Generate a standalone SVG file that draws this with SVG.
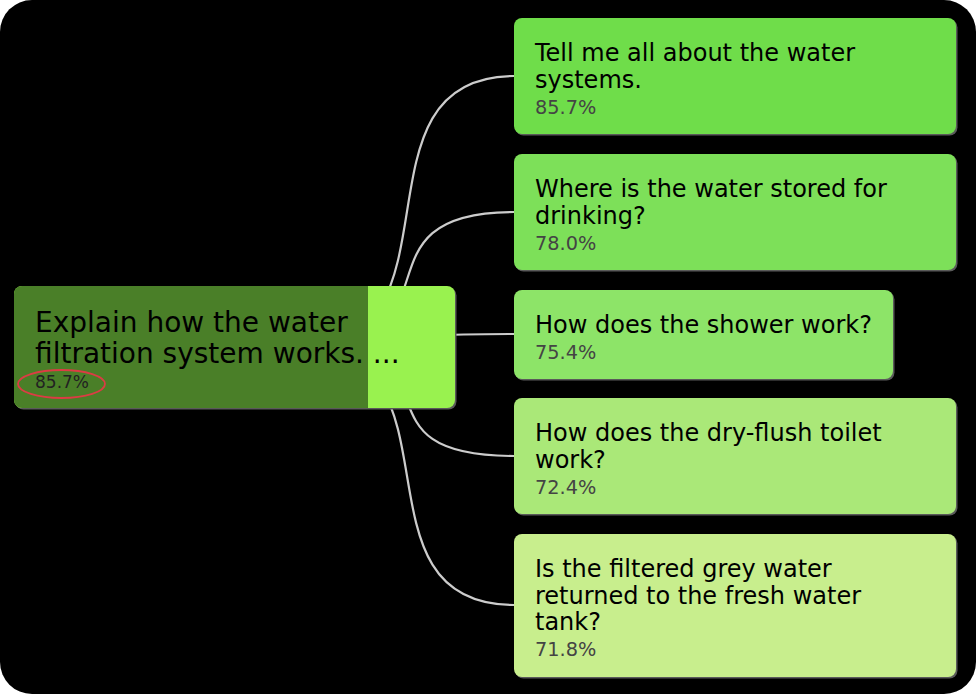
<svg xmlns="http://www.w3.org/2000/svg" width="976" height="694" viewBox="0 0 976 694">
<style>
.t{font-family:"DejaVu Sans",Verdana,sans-serif;font-size:24px;fill:#000}
.p{font-family:"DejaVu Sans",Verdana,sans-serif;font-size:19.3px;fill:#444}
.lt{font-family:"DejaVu Sans",Verdana,sans-serif;font-size:28px;fill:#000}
.lp{font-family:"DejaVu Sans",Verdana,sans-serif;font-size:17px;fill:#222}
.sh{fill:#5a5a5a}
.link{fill:none;stroke:#cccccc;stroke-width:2.2}
</style>
<rect x="0" y="0" width="976" height="694" fill="#ffffff"/>
<rect x="0" y="0" width="976" height="694" rx="32" ry="32" fill="#000000"/>
<g id="connectors">
<path class="link" d="M300,347 C471,347 343,76 514,76"/>
<path class="link" d="M300,347 C471,347 343,212 514,212"/>
<path class="link" d="M300,347 C471,347 343,334 514,334"/>
<path class="link" d="M300,347 C471,347 343,456 514,456"/>
<path class="link" d="M300,347 C471,347 343,605 514,605"/>
</g>
<g id="root">
<rect class="sh" x="15.5" y="287.5" width="441" height="122" rx="8"/>
<rect x="14" y="286" width="441" height="122" rx="8" fill="#99f24f"/>
<path d="M22,286 H368 V408 H22 A8,8 0 0 1 14,400 V294 A8,8 0 0 1 22,286 Z" fill="#4a7f28"/>
<text class="lt" x="35" y="332">Explain how the water</text>
<text class="lt" x="35" y="363">filtration system works. ...</text>
<text class="lp" x="35" y="388">85.7%</text>
<ellipse cx="61.5" cy="384" rx="43.5" ry="14" fill="none" stroke="#dc3c44" stroke-width="1.8"/>
</g>
<g id="n1">
<rect class="sh" x="515.5" y="19.5" width="442" height="116" rx="8"/>
<rect x="514" y="18" width="442" height="116" rx="8" fill="#6fdd4a"/>
<text class="t" x="535" y="61">Tell me all about the water</text>
<text class="t" x="535" y="88">systems.</text>
<text class="p" x="535" y="114">85.7%</text>
</g>
<g id="n2">
<rect class="sh" x="515.5" y="155.5" width="442" height="116" rx="8"/>
<rect x="514" y="154" width="442" height="116" rx="8" fill="#7de059"/>
<text class="t" x="535" y="197">Where is the water stored for</text>
<text class="t" x="535" y="224">drinking?</text>
<text class="p" x="535" y="250">78.0%</text>
</g>
<g id="n3">
<rect class="sh" x="515.5" y="291.5" width="379" height="89" rx="8"/>
<rect x="514" y="290" width="379" height="89" rx="8" fill="#8de468"/>
<text class="t" x="535" y="333">How does the shower work?</text>
<text class="p" x="535" y="359">75.4%</text>
</g>
<g id="n4">
<rect class="sh" x="515.5" y="399.5" width="442" height="116" rx="8"/>
<rect x="514" y="398" width="442" height="116" rx="8" fill="#aae878"/>
<text class="t" x="535" y="441">How does the dry-flush toilet</text>
<text class="t" x="535" y="468">work?</text>
<text class="p" x="535" y="494">72.4%</text>
</g>
<g id="n5">
<rect class="sh" x="515.5" y="535.5" width="442" height="143" rx="8"/>
<rect x="514" y="534" width="442" height="143" rx="8" fill="#c8ee8d"/>
<text class="t" x="535" y="577">Is the filtered grey water</text>
<text class="t" x="535" y="604">returned to the fresh water</text>
<text class="t" x="535" y="630">tank?</text>
<text class="p" x="535" y="656">71.8%</text>
</g>
</svg>
